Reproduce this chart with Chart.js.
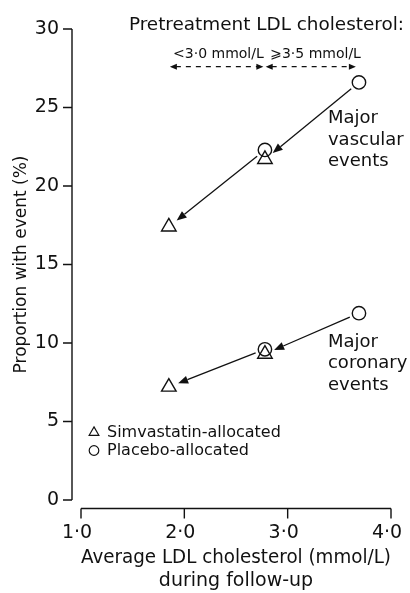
<!DOCTYPE html>
<html><head><meta charset="utf-8">
<script src="https://cdn.jsdelivr.net/npm/chart.js@4/dist/chart.umd.min.js"></script>
<style>html,body{margin:0;padding:0;background:#fff}#wrap{width:410px;height:593px;position:relative}</style>
</head><body><div id="wrap"><canvas id="c"></canvas></div>
<script>
// ---- data ----
const xTickValues = [1, 2, 3, 4];
const xTickLabels = ['1·0', '2·0', '3·0', '4·0'];
const yTickValues = [0, 5, 10, 15, 20, 25, 30];
const yTickLabels = ['0', '5', '10', '15', '20', '25', '30'];

const simvastatinLDL = [1.85, 2.78];
const placeboLDL = [2.78, 3.69];
const simvastatinVascular = [17.4, 21.7];
const placeboVascular = [22.3, 26.6];
const simvastatinCoronary = [7.2, 9.3];
const placeboCoronary = [9.6, 11.9];

const seriesNames = ['Simvastatin-allocated', 'Placebo-allocated'];
const outcomeLabels = [['Major', 'vascular', 'events'], ['Major', 'coronary', 'events']];
const outcomeLabelX = [3.39, 3.39];
const outcomeLabelY = [24.0, 9.75];

const headerTitle = 'Pretreatment LDL cholesterol:';
const ldlGroupLabels = ['<3·0 mmol/L', '⩾3·5 mmol/L'];
const ldlGroupLabelX = [2.33, 3.27];
const ldlGroupFrom = [1.86, 2.787];
const ldlGroupTo = [2.765, 3.66];
const ldlGroupY = 27.6;

const xTitle = ['Average LDL cholesterol (mmol/L)', 'during follow-up'];
const yTitle = 'Proportion with event (%)';

// ---- styling ----
const FONT = '"DejaVu Sans", sans-serif';
const INK = '#111';

function pts(xs, ys) { return xs.map((x, i) => ({ x: x, y: ys[i] })); }

function ds(label, xs, ys, style, r) {
  return {
    label: label, data: pts(xs, ys), showLine: false,
    pointStyle: style, pointRadius: r, pointHoverRadius: r,
    pointBorderWidth: 1.4, pointBorderColor: INK,
    pointBackgroundColor: 'rgba(0,0,0,0)'
  };
}

function arrowTo(ctx, x1, y1, x2, y2, gapStart, gapEnd, headLen, headHalf) {
  const dx = x2 - x1, dy = y2 - y1, L = Math.hypot(dx, dy);
  const ux = dx / L, uy = dy / L;
  const sx = x1 + ux * gapStart, sy = y1 + uy * gapStart;
  const tx = x2 - ux * gapEnd, ty = y2 - uy * gapEnd;
  const bx = tx - ux * headLen, by = ty - uy * headLen;
  ctx.beginPath(); ctx.moveTo(sx, sy); ctx.lineTo(bx, by); ctx.stroke();
  ctx.beginPath(); ctx.moveTo(tx, ty);
  ctx.lineTo(bx - uy * headHalf, by + ux * headHalf);
  ctx.lineTo(bx + uy * headHalf, by - ux * headHalf);
  ctx.closePath(); ctx.fill();
}

function head(ctx, tx, ty, dir, len, half) {
  ctx.beginPath(); ctx.moveTo(tx, ty);
  ctx.lineTo(tx - dir * len, ty - half);
  ctx.lineTo(tx - dir * len, ty + half);
  ctx.closePath(); ctx.fill();
}

function noPad(s) { s.paddingLeft = 0; s.paddingRight = 0; s.paddingTop = 0; s.paddingBottom = 0; }

const decor = {
  id: 'decor',
  afterDatasetsDraw(chart) {
    const ctx = chart.ctx, xs = chart.scales.x, ys = chart.scales.y, ca = chart.chartArea;
    ctx.save();
    ctx.strokeStyle = INK; ctx.fillStyle = INK; ctx.lineWidth = 1.4;

    // y axis line (offset left of plot) + ticks
    const yAxisX = ca.left - 9;
    ctx.beginPath();
    ctx.moveTo(yAxisX, ys.getPixelForValue(30)); ctx.lineTo(yAxisX, ys.getPixelForValue(0));
    ys.ticks.forEach(t => { const p = ys.getPixelForValue(t.value); ctx.moveTo(yAxisX - 9, p); ctx.lineTo(yAxisX, p); });
    ctx.stroke();

    // x axis line (offset below plot) + ticks
    const xAxisY = ca.bottom + 8.5;
    ctx.beginPath();
    ctx.moveTo(xs.getPixelForValue(1), xAxisY); ctx.lineTo(xs.getPixelForValue(4), xAxisY);
    xs.ticks.forEach(t => { const p = xs.getPixelForValue(t.value); ctx.moveTo(p, xAxisY); ctx.lineTo(p, xAxisY + 10); });
    ctx.stroke();

    // treatment arrows: placebo -> simvastatin
    ctx.lineWidth = 1.3;
    const pairs = [
      [placeboLDL, placeboVascular, simvastatinLDL, simvastatinVascular],
      [placeboLDL, placeboCoronary, simvastatinLDL, simvastatinCoronary]
    ];
    pairs.forEach(([px, py, sx, sy]) => {
      for (let i = 0; i < px.length; i++) {
        arrowTo(ctx, xs.getPixelForValue(px[i]), ys.getPixelForValue(py[i]),
          xs.getPixelForValue(sx[i]), ys.getPixelForValue(sy[i]), 10, 10, 10, 4);
      }
    });

    // header
    ctx.textBaseline = 'alphabetic';
    ctx.font = '18.4px ' + FONT; ctx.textAlign = 'right';
    ctx.fillText(headerTitle, ca.right + 13, ca.top + 1);
    const gy = ys.getPixelForValue(ldlGroupY);
    ctx.font = '14px ' + FONT; ctx.textAlign = 'center';
    ctx.lineWidth = 1.2;
    for (let i = 0; i < ldlGroupLabels.length; i++) {
      const a = xs.getPixelForValue(ldlGroupFrom[i]), b = xs.getPixelForValue(ldlGroupTo[i]);
      ctx.fillText(ldlGroupLabels[i], xs.getPixelForValue(ldlGroupLabelX[i]), gy - 9);
      ctx.setLineDash([5, 5]);
      ctx.beginPath(); ctx.moveTo(a + 6, gy); ctx.lineTo(b - 6, gy); ctx.stroke();
      ctx.setLineDash([]);
      head(ctx, a, gy, -1, 7, 3);
      head(ctx, b, gy, 1, 7, 3);
    }

    // outcome labels
    ctx.font = '18px ' + FONT; ctx.textAlign = 'left';
    outcomeLabels.forEach((lines, k) => {
      const x0 = xs.getPixelForValue(outcomeLabelX[k]), y0 = ys.getPixelForValue(outcomeLabelY[k]);
      lines.forEach((s, j) => ctx.fillText(s, x0, y0 + j * 21.5));
    });

    // legend
    const lx = ca.left + 13, ly1 = ys.getPixelForValue(4.3), ly2 = ly1 + 18;
    ctx.lineWidth = 1.2;
    const r = 5.6;
    ctx.beginPath();
    ctx.moveTo(lx, ly1 - r); ctx.lineTo(lx + r * 0.866, ly1 + r / 2); ctx.lineTo(lx - r * 0.866, ly1 + r / 2); ctx.closePath();
    ctx.stroke();
    ctx.beginPath(); ctx.arc(lx, ly2, 4.8, 0, Math.PI * 2); ctx.stroke();
    ctx.font = '16px ' + FONT; ctx.textBaseline = 'middle';
    ctx.fillText(seriesNames[0], lx + 13, ly1);
    ctx.fillText(seriesNames[1], lx + 13, ly2);
    ctx.restore();
  }
};

new Chart(document.getElementById('c'), {
  type: 'scatter',
  data: {
    datasets: [
      ds(seriesNames[0] + ' (vascular)', simvastatinLDL, simvastatinVascular, 'triangle', 8.4),
      ds(seriesNames[1] + ' (vascular)', placeboLDL, placeboVascular, 'circle', 6.7),
      ds(seriesNames[0] + ' (coronary)', simvastatinLDL, simvastatinCoronary, 'triangle', 8.4),
      ds(seriesNames[1] + ' (coronary)', placeboLDL, placeboCoronary, 'circle', 6.7)
    ]
  },
  options: {
    responsive: true, maintainAspectRatio: false, animation: false, events: [],
    devicePixelRatio: 1,
    layout: { padding: { top: 29, right: 19, left: 0, bottom: 0 } },
    plugins: { legend: { display: false }, tooltip: { enabled: false } },
    scales: {
      x: {
        type: 'linear', min: 1, max: 4,
        afterBuildTicks: s => { s.ticks = xTickValues.map(v => ({ value: v })); },
        afterFit: s => { s.height = 93; noPad(s); },
        grid: { display: false, drawTicks: false }, border: { display: false },
        ticks: { color: INK, font: { family: FONT, size: 19 }, padding: 22, labelOffset: -4,
          callback: (v) => xTickLabels[xTickValues.indexOf(v)] },
        title: { display: true, text: xTitle, color: INK, font: { family: FONT, size: 19, lineHeight: 1.22 }, padding: { top: 0, bottom: 0 } }
      },
      y: {
        type: 'linear', min: 0, max: 30,
        afterBuildTicks: s => { s.ticks = yTickValues.map(v => ({ value: v })); },
        afterFit: s => { s.width = 81; noPad(s); },
        grid: { display: false, drawTicks: false }, border: { display: false },
        ticks: { color: INK, font: { family: FONT, size: 19 }, padding: 22,
          callback: (v) => yTickLabels[yTickValues.indexOf(v)] },
        title: { display: true, text: yTitle, color: INK, font: { family: FONT, size: 17, lineHeight: 1.2 }, padding: { top: 11, bottom: 0 } }
      }
    }
  },
  plugins: [decor]
});
</script></body></html>
